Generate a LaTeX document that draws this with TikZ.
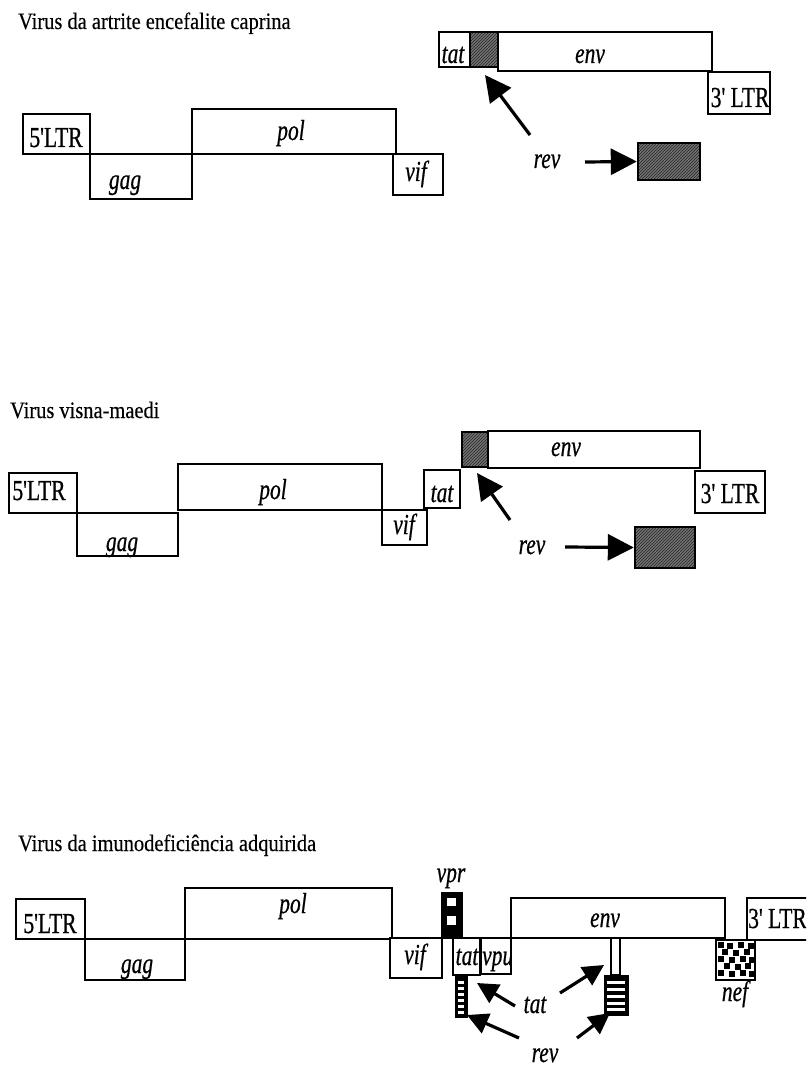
\documentclass[tikz,border=0pt]{standalone}
\usepackage{fontspec}
\setmainfont{Liberation Serif}
\newfontfamily\labfont[FakeStretch=0.74,FakeBold=0.6]{Liberation Serif}
\newfontfamily\ttlfont[FakeStretch=0.87,FakeBold=0.3]{Liberation Serif}
\usetikzlibrary{fit,patterns,arrows.meta}
\tikzset{
  gbox/.style={draw=black, line width=2.4pt, fill=white, inner sep=0pt, fit={#1}},
  hbox/.style={draw=black, line width=2.4pt, inner sep=0pt, fit={#1},
     preaction={fill=black!55}, pattern=north east lines, pattern color=black!85},
  lab/.style={font=\labfont\fontsize{29}{29}\selectfont\itshape, inner sep=0pt, anchor=base},
  ltr/.style={font=\labfont\fontsize{29}{29}\selectfont, inner sep=0pt, anchor=base},
  ttl/.style={font=\ttlfont\fontsize{23.5}{23.5}\selectfont, anchor=base west, inner sep=0pt},
  bigarrow/.style={line width=3.2pt, -{Triangle[length=26pt,width=26pt]}},
  smallarrow/.style={line width=3.2pt, -{Triangle[length=21pt,width=21pt]}}
}
\begin{document}
\begin{tikzpicture}[x=1pt,y=-1pt]
\useasboundingbox (0,0) rectangle (806,1067);
\clip (0,0) rectangle (806,1067);

% ---------------- Section 1: CAEV ----------------
\node[ttl] (t1) at (18,29) {Virus da artrite encefalite caprina};
\node[gbox={(23,114) (90,154)}] (a5ltr) {};
\node[gbox={(90,154) (192,199)}] (agag) {};
\node[gbox={(192,109) (396,154)}] (apol) {};
\node[gbox={(393,154) (443,195)}] (avif) {};
\node[gbox={(439,32) (470,67)}] (atat) {};
\node[hbox={(470,32) (498,67)}] (arevx) {};
\node[gbox={(498,32) (712,71)}] (aenv) {};
\node[gbox={(708,72) (770,114)}] (a3ltr) {};
\node[hbox={(638,143) (700,180)}] (arevb) {};

\node[ltr] (l5a) at (56,147) {5'LTR};
\node[lab] (lgaga) at (125,189) {gag};
\node[lab] (lpola) at (291,140) {pol};
\node[lab] (lvifa) at (416,181) {vif};
\node[lab] (ltata) at (453,63) {tat};
\node[lab] (lenva) at (590,63) {env};
\node[ltr] (l3a) at (740,107) {3' LTR};
\node[lab] (lreva) at (547,168) {rev};

\coordinate (ar1s) at (530,135);
\coordinate (ar1e) at (485,75);
\coordinate (ar2s) at (585,162);
\draw[bigarrow] (ar1s) -- (ar1e);
\draw[bigarrow] (ar2s) -- (arevb.west);

% ---------------- Section 2: Visna-maedi ----------------
\node[ttl] (t2) at (10,418) {Virus visna-maedi};
\node[gbox={(9,473) (77,513)}] (b5ltr) {};
\node[gbox={(77,513) (178,556)}] (bgag) {};
\node[gbox={(178,464) (382,510)}] (bpol) {};
\node[gbox={(382,510) (427,545)}] (bvif) {};
\node[gbox={(424,470) (460,508)}] (btat) {};
\node[hbox={(462,432) (488,467)}] (brevx) {};
\node[gbox={(488,431) (700,468)}] (benv) {};
\node[gbox={(695,471) (765,513)}] (b3ltr) {};
\node[hbox={(635,527) (695,568)}] (brevb) {};

\node[ltr] (l5b) at (39,500) {5'LTR};
\node[lab] (lgagb) at (122,551) {gag};
\node[lab] (lpolb) at (273,499) {pol};
\node[lab] (lvifb) at (404,534) {vif};
\node[lab] (ltatb) at (442,502) {tat};
\node[lab] (lenvb) at (566,456) {env};
\node[ltr] (l3b) at (730,503) {3' LTR};
\node[lab] (lrevb) at (532,554) {rev};

\coordinate (br1s) at (510,520);
\coordinate (br1e) at (477,473);
\coordinate (br2s) at (565,547);
\draw[bigarrow] (br1s) -- (br1e);
\draw[bigarrow] (br2s) -- (brevb.west);

% ---------------- Section 3: HIV ----------------
\node[ttl] (t3) at (18,851) {Virus da imunodeficiência adquirida};
\node[gbox={(16,899) (85,939)}] (c5ltr) {};
\node[gbox={(85,939) (185,980)}] (cgag) {};
\node[gbox={(185,888) (392,939)}] (cpol) {};
\node[gbox={(390,938) (442,978)}] (cvif) {};
\node[gbox={(511,898) (725,938)}] (cenv) {};
\node[gbox={(747,898) (830,940)}] (c3ltr) {};
\node[gbox={(453,938) (480,975)}] (ctat) {};
\node[gbox={(481,938) (511,974)}] (cvpu) {};
\node[gbox={(716,940) (755,980)}] (cnef) {};
% vpr
\node[draw=black, line width=1.2pt, fill=black, inner sep=0pt, fit={(442,893) (462,938)}] (cvpr) {};
\fill[white] (447,898) rectangle (456,906);
\fill[white] (447,916) rectangle (456,925);
% rev bar under tat
\node[draw=black, line width=1pt, fill=black, inner sep=0pt, fit={(455,975) (467,1017)}] (crevbar) {};
\foreach \yy in {981,987,993,999,1005,1011}
  \fill[white] (458,\yy) rectangle (464,\yy+2.5);
% stem and striped box under env
\node[draw=black, line width=2.2pt, fill=white, inner sep=0pt, fit={(611,938) (620,975)}] (cstem) {};
\node[draw=black, line width=1pt, fill=black, inner sep=0pt, fit={(604,975) (628,1015)}] (cenvbar) {};
\foreach \yy in {981,988,995,1002,1008}
  \fill[white] (607,\yy) rectangle (625,\yy+3);
% nef pattern
\foreach \px/\py in {718/942,727/943,738/942,748/943, 722/949,733/950,744/949, 718/956,729/957,740/956,749/957, 724/963,735/964,745/963, 718/970,729/971,740/970,749/971}
  \fill[black] (\px,\py) rectangle (\px+5.5,\py+5.5);

\node[ltr] (l5c) at (50,933) {5'LTR};
\node[lab] (lgagc) at (137,973) {gag};
\node[lab] (lpolc) at (293,913) {pol};
\node[lab] (lvifc) at (415,964) {vif};
\node[lab] (lvpr) at (451,882) {vpr};
\node[lab] (ltatc) at (467,965) {tat};
\begin{scope}
  \clip (482,939) rectangle (510,973);
  \node[lab, anchor=base west] (lvpu) at (482,965) {vpu};
\end{scope}
\node[lab] (lenvc) at (605,927) {env};
\node[ltr, anchor=base west] (l3c) at (748,928) {3' LTR};
\node[lab] (lnef) at (735,1001) {nef};
\node[lab] (ltatl) at (535,1013) {tat};
\node[lab] (lrevl) at (545,1062) {rev};

\coordinate (cr1s) at (515,1006);
\coordinate (cr1e) at (477,983);
\coordinate (cr2s) at (560,993);
\coordinate (cr2e) at (604,965);
\coordinate (cr3s) at (519,1038);
\coordinate (cr3e) at (467,1015);
\coordinate (cr4s) at (577,1038);
\coordinate (cr4e) at (610,1013);
\draw[smallarrow] (cr1s) -- (cr1e);
\draw[smallarrow] (cr2s) -- (cr2e);
\draw[smallarrow] (cr3s) -- (cr3e);
\draw[smallarrow] (cr4s) -- (cr4e);
\end{tikzpicture}
\end{document}
